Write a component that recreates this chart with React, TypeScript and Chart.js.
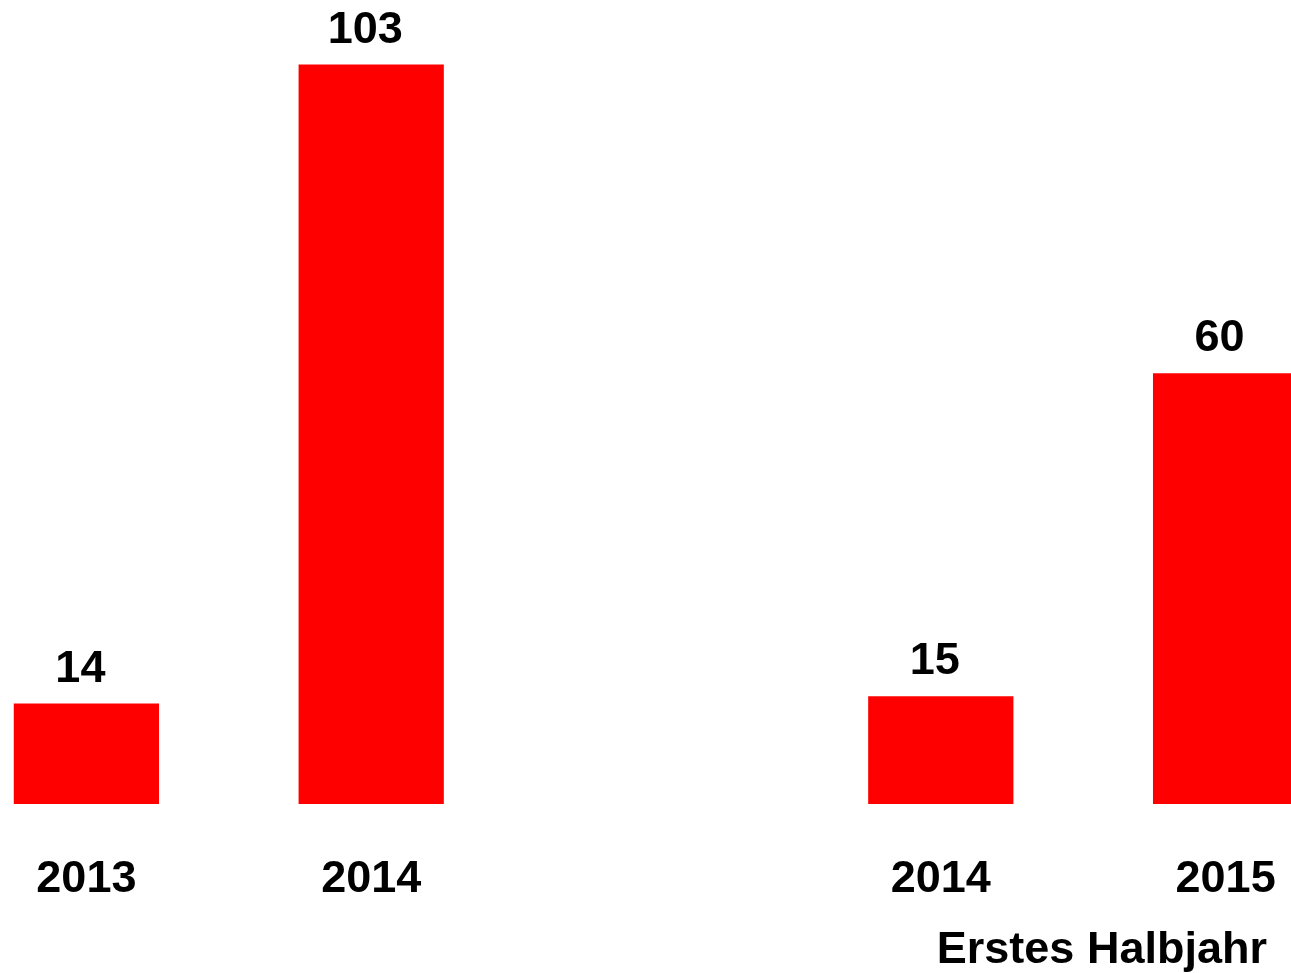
import React, { useEffect, useRef } from "react";
import { Chart, registerables } from "chart.js";

Chart.register(...registerables);

const categories = ["2013", "2014", "", "2014", "2015"];
const values: (number | null)[] = [14, 103, null, 15, 60];
const subtitle = "Erstes Halbjahr";

const FONT = "'Liberation Sans', Arial, sans-serif";

const labelPlugin = {
  id: "valueLabels",
  afterDatasetsDraw(chart: any) {
    const ctx = chart.ctx;
    const meta = chart.getDatasetMeta(0);
    ctx.save();
    ctx.fillStyle = "#000000";
    ctx.font = `bold 45px ${FONT}`;
    ctx.textAlign = "center";
    ctx.textBaseline = "alphabetic";
    meta.data.forEach((bar: any, i: number) => {
      const v = values[i];
      if (v === null || v === undefined) return;
      ctx.fillText(String(v), bar.x - 6, bar.y - 22);
    });
    // subtitle under the last pair of categories
    const xs = chart.scales.x;
    ctx.textAlign = "left";
    ctx.fillText(subtitle, xs.getPixelForValue(3) - 4, 963);
    ctx.restore();
  },
};

export default function App() {
  const ref = useRef<HTMLCanvasElement>(null);
  useEffect(() => {
    if (!ref.current) return;
    const chart = new Chart(ref.current, {
      type: "bar",
      data: {
        labels: categories,
        datasets: [
          {
            data: values,
            backgroundColor: "#FF0000",
            borderWidth: 0,
            barPercentage: 0.51,
            categoryPercentage: 1,
          },
        ],
      },
      options: {
        animation: false,
        responsive: true,
        maintainAspectRatio: false,
        layout: { padding: { top: 0, bottom: 17, left: 0, right: 0 } },
        plugins: {
          legend: { display: false },
          tooltip: { enabled: false },
          title: { display: false },
        },
        scales: {
          x: {
            grid: { display: false, drawTicks: false },
            border: { display: false },
            ticks: {
              color: "#000000",
              padding: 49,
              maxRotation: 0,
              autoSkip: false,
              font: { family: FONT, size: 45, weight: "bold" },
            },
          },
          y: {
            display: false,
            min: 0,
            max: 112,
          },
        },
      },
      plugins: [labelPlugin],
    });
    return () => chart.destroy();
  }, []);

  return (
    <div
      style={{
        position: "fixed",
        left: 0,
        top: 0,
        width: "1291px",
        height: "973px",
        overflow: "hidden",
        background: "#ffffff",
      }}
    >
      <div
        style={{
          position: "absolute",
          left: "-56px",
          top: 0,
          width: "1424px",
          height: "973px",
        }}
      >
        <canvas ref={ref} />
      </div>
    </div>
  );
}
